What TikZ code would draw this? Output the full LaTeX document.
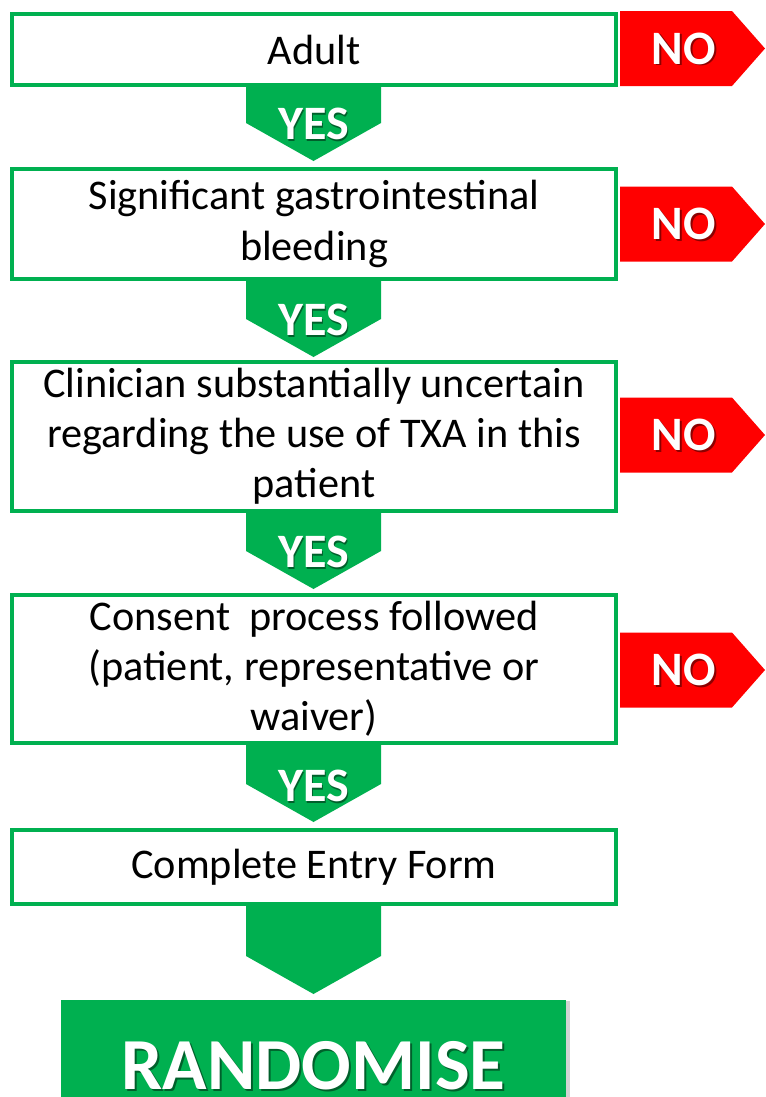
\documentclass[tikz,border=0pt]{standalone}
\usepackage{fontspec}
\setmainfont{Carlito}
\usetikzlibrary{shadows}
\newlength\pu \setlength\pu{0.75pt}
\definecolor{cgreen}{HTML}{00B050}
\definecolor{cred}{HTML}{FF0000}
\tikzset{
 box/.style={draw=cgreen, line width=4\pu, fill=white, minimum width=604\pu, align=center, inner sep=0pt, font=\fontsize{31.7}{37.6}\selectfont},
 tagtext/.style={text=white, font=\fontsize{36}{42}\selectfont\bfseries, inner sep=0pt},
 tagshadow/.style={text=black, opacity=0.45, font=\fontsize{36}{42}\selectfont\bfseries, inner sep=0pt},
 bigtext/.style={text=white, font=\fontsize{55}{62}\selectfont\bfseries, inner sep=0pt},
 bigshadow/.style={text=black, opacity=0.45, font=\fontsize{55}{62}\selectfont\bfseries, inner sep=0pt},
}
\newcommand\tagtxt[4]{%
 \node[tagshadow] (#1s) at (#2+1.5,#3+1.5) {#4};
 \node[tagtext] (#1) at (#2,#3) {#4};}
\newcommand\yesshape[2]{%
 \fill[cgreen] (246,#1) -- (381,#1) -- (381,#2-38) -- (313.5,#2) -- (246,#2-38) -- cycle;}
\newcommand\noshape[1]{%
 \fill[cred] (620,#1-37.5) -- (732,#1-37.5) -- (765,#1) -- (732,#1+37.5) -- (620,#1+37.5) -- cycle;}
\begin{document}
\begin{tikzpicture}[x=0.75pt, y=-0.75pt]
\useasboundingbox (0,0) rectangle (765,1097);
% boxes
\node[box, minimum height=71\pu] (b1) at (314,49.5) {Adult};
\node[box, minimum height=110\pu] (b2) at (314,224) {Significant gastrointestinal\\bleeding};
\node[box, minimum height=149\pu] (b3) at (314,436.5) {Clinician substantially uncertain\\regarding the use of TXA in this\\patient};
\node[box, minimum height=148\pu] (b4) at (314,669) {Consent\ \ process followed\\(patient, representative or\\waiver)};
\node[box, minimum height=74\pu] (b5) at (314,867) {Complete Entry Form};
% YES arrows
\yesshape{85}{161}
\yesshape{279}{357}
\yesshape{511}{589}
\yesshape{743}{822}
\yesshape{904}{994}
\tagtxt{y1}{313.5}{124}{YES}
\tagtxt{y2}{313.5}{320}{YES}
\tagtxt{y3}{313.5}{552}{YES}
\tagtxt{y4}{313.5}{786}{YES}
% NO arrows
\noshape{48.5}
\noshape{224}
\noshape{435}
\noshape{670}
\tagtxt{n1}{684}{48.5}{NO}
\tagtxt{n2}{684}{224}{NO}
\tagtxt{n3}{684}{435}{NO}
\tagtxt{n4}{684}{670}{NO}
% randomise
\begin{scope}
\clip (0,0) rectangle (765,1097);
\node[fill=cgreen, minimum width=505\pu, minimum height=134\pu, inner sep=0pt,
  drop shadow={shadow xshift=3pt, shadow yshift=-1pt, opacity=0.35}] (r) at (313.5,1067) {};
\end{scope}
\node[bigshadow] (rts) at (315.5,1068) {RANDOMISE};
\node[bigtext] (rt) at (313.5,1066) {RANDOMISE};
\end{tikzpicture}
\end{document}
